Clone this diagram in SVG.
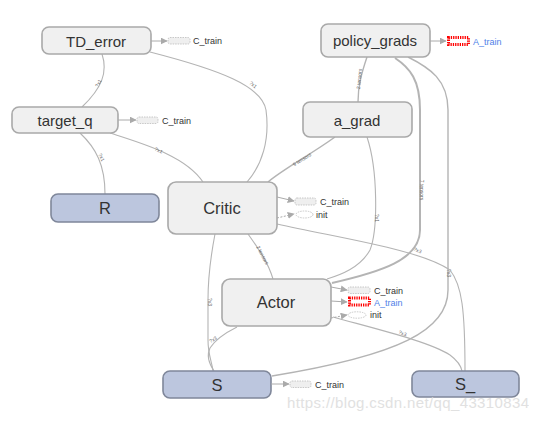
<svg xmlns="http://www.w3.org/2000/svg" width="539" height="421" viewBox="0 0 539 421">
<style>
.op{fill:#f0f0f0;stroke:#a9a9a9;stroke-width:1.6}
.in{fill:#bcc6de;stroke:#7f879a;stroke-width:1.6}
.nl{font-family:"Liberation Sans",Arial,sans-serif;font-size:15px;fill:#333;text-anchor:middle}
.big{font-size:16.5px}
.e{fill:none;stroke:#b4b4b4;stroke-width:1.1}
.et{fill:none;stroke:#b4b4b4;stroke-width:2}
.el{font-family:"Liberation Sans",Arial,sans-serif;font-size:5px;fill:#666;text-anchor:middle}
.ax{fill:none;stroke:#aaa;stroke-width:1}
.axd{fill:none;stroke:#aaa;stroke-width:1;stroke-dasharray:2,1.5}
.cb{fill:#efefef;stroke:#bbb;stroke-width:0.8;stroke-dasharray:1.5,1}
.rb{fill:#fff;stroke:#f00;stroke-width:3;stroke-dasharray:1.3,1}
.ie{fill:#fff;stroke:#bbb;stroke-width:0.8;stroke-dasharray:1.5,1}
.at{font-family:"Liberation Sans",Arial,sans-serif;font-size:9px;fill:#333}
.atb{font-family:"Liberation Sans",Arial,sans-serif;font-size:9px;fill:#4f7fe8}
</style>
<defs>
<marker id="ah" viewBox="0 0 10 10" refX="9" refY="5" markerWidth="7" markerHeight="7" markerUnits="userSpaceOnUse" orient="auto">
<path d="M0,0 L10,5 L0,10 z" fill="#aaa"/>
</marker>
</defs>
<rect width="539" height="421" fill="#fff"/>
<g id="connectors">
<path class="e" d="M102,54 C108,72 102,88 82,107"/>
<text class="el" transform="translate(100,84) rotate(-62)">?x1</text>
<path class="e" d="M150,52 C220,70 262,86 266,110 C270,140 262,165 247,182"/>
<text class="el" transform="translate(252,86) rotate(40)">?x1</text>
<path class="e" d="M80,133 C96,148 105,165 105,194"/>
<text class="el" transform="translate(100,158) rotate(65)">?x1</text>
<path class="e" d="M110,133 C140,143 185,155 203,182"/>
<text class="el" transform="translate(158,152) rotate(25)">?x1</text>
<path class="et" d="M335,137 C310,155 285,168 268,182" style="stroke-width:1.5"/>
<text class="el" transform="translate(303,161) rotate(-32)">9 tensors</text>
<path class="e" d="M367,57 C362,72 358,85 358,102" style="stroke-width:1.4"/>
<text class="el" transform="translate(361,79) rotate(-85)">2 tensors</text>
<path class="e" d="M367,137 C378,170 378,230 370,250 C360,268 340,275 327,279"/>
<text class="el" transform="translate(375,218) rotate(90)">?x1</text>
<path class="et" d="M395,58 C410,68 420,80 420,110 L420,230 C420,260 380,272 332,283"/>
<text class="el" transform="translate(420,190) rotate(90)">7 tensors</text>
<path class="e" d="M408,57 C430,68 448,80 448,110 L448,290 C448,330 400,355 272,376" style="stroke-width:1.4"/>
<text class="el" transform="translate(447,273) rotate(90)">?x3</text>
<path class="e" d="M277,224 C350,240 420,250 450,270 C462,285 465,310 465,371"/>
<text class="el" transform="translate(417,252) rotate(22)">?x3</text>
<path class="e" d="M333,317 C380,330 430,342 450,355 C458,361 461,366 462,371"/>
<text class="el" transform="translate(402,335) rotate(20)">?x3</text>
<path class="e" d="M248,234 C258,248 268,262 273,279"/>
<text class="el" transform="translate(261,256) rotate(62)">2 tensors</text>
<path class="e" d="M215,234 C210,260 208,280 208,300 L208,340 C208,355 212,362 213,371"/>
<text class="el" transform="translate(208,302) rotate(90)">?x3</text>
<path class="e" d="M237,327 C225,333 215,340 210,348 C206,356 210,365 214,371"/>
<text class="el" transform="translate(214,341) rotate(-30)">?x3</text>
</g>
<g id="TD_error">
<rect class="op" x="42" y="27" width="109" height="27" rx="7"/>
<text class="nl" x="96" y="46.5">TD_error</text>
<path class="ax" d="M151,41 L167,41" marker-end="url(#ah)"/>
<rect class="cb" x="168" y="37.5" width="22" height="6.5" rx="2"/>
<text class="at" x="193" y="44">C_train</text>
</g>
<g id="target_q">
<rect class="op" x="12" y="107" width="106" height="26" rx="7"/>
<text class="nl" x="65" y="125.5">target_q</text>
<path class="ax" d="M118,120 L136,120" marker-end="url(#ah)"/>
<rect class="cb" x="137" y="117" width="21" height="6.5" rx="2"/>
<text class="at" x="162" y="123.5">C_train</text>
</g>
<g id="policy_grads">
<rect class="op" x="321" y="24" width="109" height="33" rx="7"/>
<text class="nl" x="375" y="46">policy_grads</text>
<path class="ax" d="M430,41 L446,41" marker-end="url(#ah)"/>
<rect class="rb" x="448.5" y="37.5" width="20" height="7"/>
<text class="atb" x="473" y="44.5">A_train</text>
</g>
<g id="a_grad">
<rect class="op" x="303" y="102" width="109" height="35" rx="7"/>
<text class="nl" x="357" y="125.5">a_grad</text>
</g>
<g id="R">
<rect class="in" x="51" y="194" width="108" height="28" rx="7"/>
<text class="nl big" x="105" y="214">R</text>
</g>
<g id="Critic">
<rect class="op" x="168" y="182" width="109" height="52" rx="8"/>
<text class="nl big" x="222" y="214">Critic</text>
<path class="ax" d="M277,197 L294,201" marker-end="url(#ah)"/>
<rect class="cb" x="295" y="198" width="21" height="7" rx="2"/>
<text class="at" x="320" y="205">C_train</text>
<path class="axd" d="M277,218 L294,214" marker-end="url(#ah)"/>
<ellipse class="ie" cx="304.5" cy="214.5" rx="8.5" ry="3.5"/>
<text class="at" x="316" y="217.5">init</text>
</g>
<g id="Actor">
<rect class="op" x="222" y="279" width="109" height="47" rx="8"/>
<text class="nl big" x="276" y="308">Actor</text>
<path class="ax" d="M331,287 L347,290" marker-end="url(#ah)"/>
<rect class="cb" x="348" y="287" width="22" height="6.5" rx="2"/>
<text class="at" x="374" y="293.5">C_train</text>
<path class="ax" d="M331,301 L347,302" marker-end="url(#ah)"/>
<rect class="rb" x="349.5" y="298" width="20" height="7"/>
<text class="atb" x="374" y="305.5">A_train</text>
<path class="axd" d="M331,318 L347,315" marker-end="url(#ah)"/>
<ellipse class="ie" cx="357" cy="315" rx="9" ry="3.2"/>
<text class="at" x="370" y="318">init</text>
</g>
<g id="S">
<rect class="in" x="163" y="371" width="108" height="27" rx="7"/>
<text class="nl big" x="217" y="390.5">S</text>
<path class="ax" d="M271,384 L289,384" marker-end="url(#ah)"/>
<rect class="cb" x="290" y="381" width="21" height="6.5" rx="2"/>
<text class="at" x="315" y="387.5">C_train</text>
</g>
<g id="S_">
<rect class="in" x="412" y="371" width="107" height="26" rx="7"/>
<text class="nl big" x="465" y="390">S_</text>
</g>
<text x="287" y="408" textLength="242" style="font-family:'Liberation Sans',Arial,sans-serif;font-size:15px;fill:#dcdcdc;opacity:0.85">https://blog.csdn.net/qq_43310834</text>
</svg>
